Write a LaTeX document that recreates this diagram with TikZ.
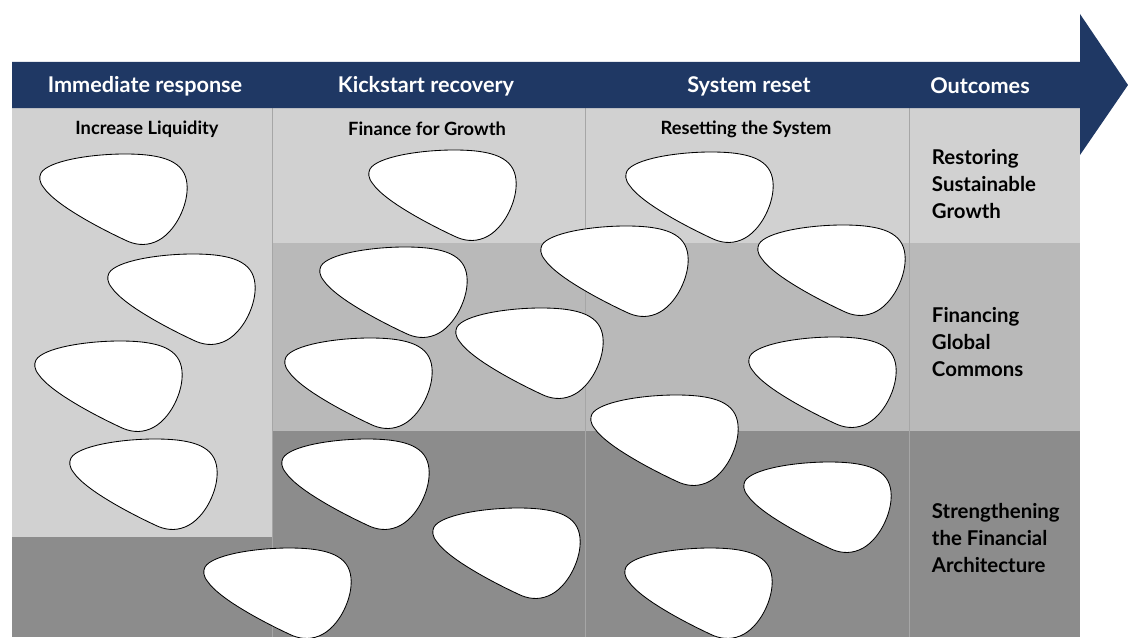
\documentclass[tikz,border=0pt]{standalone}
\usepackage{fontspec}
\setmainfont{Lato}
\usepackage{tikz}
\usetikzlibrary{positioning}

\definecolor{navy}{HTML}{1F3864}
\definecolor{lightgr}{HTML}{D1D1D1}
\definecolor{midgr}{HTML}{B9B9B9}
\definecolor{darkgr}{HTML}{8C8C8C}
\definecolor{divgr}{HTML}{A6A6A6}

\tikzset{
    blob/.pic = {
        \draw[fill=white, draw=black, line width=0.6pt]
            (1,19) .. controls (8,7) and (50,0) .. (85,0)
            .. controls (125,0) and (145,8) .. (147,30)
            .. controls (149,50) and (135,80) .. (115,88)
            .. controls (105,92) and (95,91) .. (85,86)
            .. controls (55,72) and (15,50) .. (4,34)
            .. controls (-1,28) and (-1,23) .. (1,19) -- cycle;
    }
}

\begin{document}
\begin{tikzpicture}[x=0.025cm, y=-0.025cm,
    hdr/.style = {text=white, font=\bfseries\fontsize{15.4}{18}\selectfont},
    sub/.style = {font=\bfseries\fontsize{13}{15}\selectfont},
    outc/.style = {font=\bfseries\fontsize{14.5}{19.1}\selectfont, align=left, anchor=west},
    divider/.style = {draw=divgr, line width=0.6pt}]
    \useasboundingbox (0,0) rectangle (1128,637);

    % background blocks
    \fill[lightgr] (12,108) rectangle (272,537);
    \fill[darkgr]  (12,537) rectangle (272,637);
    \fill[lightgr] (272,108) rectangle (1080,243);
    \fill[midgr]   (272,243) rectangle (1080,431);
    \fill[darkgr]  (272,431) rectangle (1080,637);

    \draw[divider] (272,108) -- (272,637);
    \draw[divider] (585,108) -- (585,637);
    \draw[divider] (909,108) -- (909,637);

    % header arrow
    \fill[navy] (12,62) -- (1080,62) -- (1080,14) -- (1128,85)
        -- (1080,155) -- (1080,108) -- (12,108) -- cycle;

    \node[hdr] (h1) at (145,86) {Immediate response};
    \node[hdr] (h2) at (426,86) {Kickstart recovery};
    \node[hdr] (h3) at (749,86) {System reset};
    \node[hdr] (h4) at (980,86) {Outcomes};

    \node[sub] (s1) at (147,129) {Increase Liquidity};
    \node[sub] (s2) at (427,129) {Finance for Growth};
    \node[sub] (s3) at (746,129) {Resetting the System};

    \node[outc] (o1) at (927,184) {Restoring\\Sustainable\\Growth};
    \node[outc] (o2) at (927,342) {Financing\\Global\\Commons};
    \node[outc] (o3) at (927,538) {Strengthening\\the Financial\\Architecture};

    % immediate response
    \pic at (40,154) {blob};
    \pic at (108,254) {blob};
    \pic at (35,341) {blob};
    \pic at (70,439) {blob};
    \pic at (204,548) {blob};

    % kickstart recovery
    \pic at (369,150) {blob};
    \pic at (320,247) {blob};
    \pic at (456,308) {blob};
    \pic at (285,338) {blob};
    \pic at (282,439) {blob};
    \pic at (433,508) {blob};

    % system reset
    \pic at (626,152) {blob};
    \pic at (541,226) {blob};
    \pic at (758,225) {blob};
    \pic at (749,337) {blob};
    \pic at (591,395) {blob};
    \pic at (744,462) {blob};
    \pic at (625,548) {blob};

\end{tikzpicture}
\end{document}
